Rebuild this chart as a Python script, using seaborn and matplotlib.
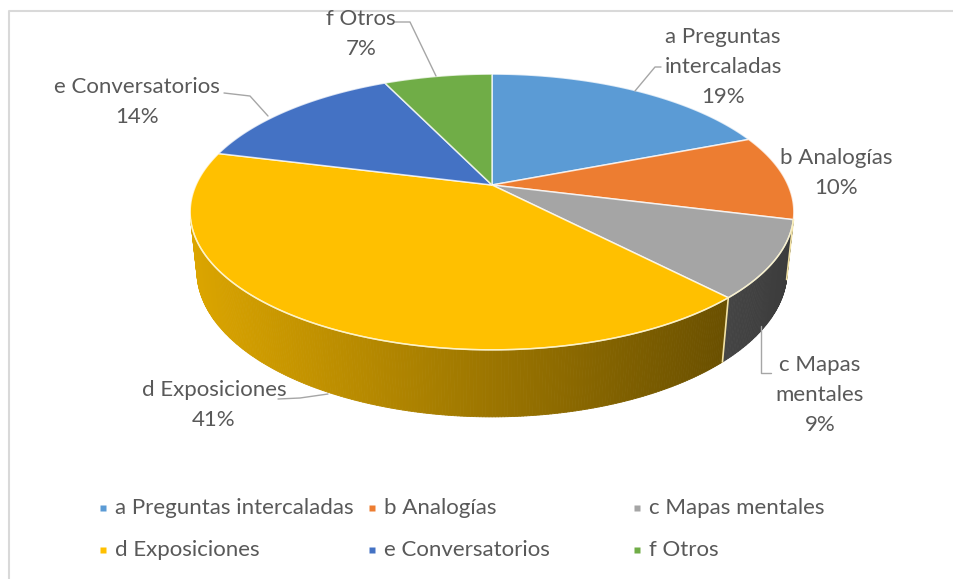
import numpy as np
import matplotlib
matplotlib.use("Agg")
import matplotlib.pyplot as plt
from matplotlib.collections import PolyCollection
import seaborn as sns

# chart data
categories = ["a Preguntas intercaladas", "b Analogías", "c Mapas mentales",
              "d Exposiciones", "e Conversatorios", "f Otros"]
label_names = ["a Preguntas\nintercaladas", "b Analogías", "c Mapas\nmentales",
               "d Exposiciones", "e Conversatorios", "f Otros"]
percentages = [19, 10, 9, 41, 14, 7]
slice_colors = ["#5B9BD5", "#ED7D31", "#A5A5A5", "#FFC000", "#4472C4", "#70AD47"]

# 3d pie camera (pixel space of the figure)
CX, CY = 492, 185
FOCAL, DIST = 1354, 4.574
SIN_T, COS_T = 0.448, 0.894
HEIGHT = 0.223

TEXT_COLOR = "#595959"
LEADER_COLOR = "#A6A6A6"
FONT_SIZE = 16


def project(phi, z):
    """Project a point of the unit disc (angle clockwise from the back) to pixels."""
    u, v = np.sin(phi), np.cos(phi)
    depth = DIST + v * COS_T - z * SIN_T
    x = CX + FOCAL * u / depth
    y = CY - FOCAL * (v * SIN_T + z * COS_T) / depth
    return x, y


def draw_pie(ax):
    fracs = np.array(percentages) / sum(percentages)
    bounds = np.concatenate([[0], np.cumsum(fracs)]) * 2 * np.pi
    colors = sns.color_palette(slice_colors)
    limit = -1 / (DIST * COS_T)  # cos(phi) below this -> wall faces the viewer

    # outer wall, shaded from left (light) to right (dark)
    polys, fcolors = [], []
    for i in range(len(fracs)):
        phis = np.linspace(bounds[i], bounds[i + 1], max(3, int(fracs[i] * 720)))
        for p1, p2 in zip(phis[:-1], phis[1:]):
            if np.cos((p1 + p2) / 2) > limit:
                continue
            xa, ya = project(p1, 0)
            xb, yb = project(p2, 0)
            xc, yc = project(p2, -HEIGHT)
            xd, yd = project(p1, -HEIGHT)
            t = np.clip(((xa + xb) / 2 - 190) / (795 - 190), 0, 1)
            shade = 0.86 - 0.5 * t
            polys.append([(xa, ya), (xb, yb), (xc, yc), (xd, yd)])
            fcolors.append(tuple(np.array(colors[i]) * shade))
    ax.add_collection(PolyCollection(polys, facecolors=fcolors, edgecolors=fcolors,
                                     linewidths=0.6))

    # light seam where two walls meet
    for b in bounds[1:-1]:
        if np.cos(b) < limit:
            xs, ys = zip(project(b, 0), project(b, -HEIGHT))
            ax.plot(xs, ys, color="#F3E3A6", lw=1.2)

    # top faces
    for i in range(len(fracs)):
        phis = np.linspace(bounds[i], bounds[i + 1], max(3, int(fracs[i] * 720)))
        xs, ys = project(phis, 0)
        ax.fill(np.r_[CX, xs], np.r_[CY, ys], color=colors[i],
                ec=(1, 1, 1, 0.75), lw=1.1)

    # rim highlight on the front edge
    phis = np.linspace(np.pi / 2 + 0.25, 3 * np.pi / 2 - 0.25, 200)
    xs, ys = project(phis, 0)
    ax.plot(xs, ys, color="#FFF6C8", lw=1.0, alpha=0.8)


def draw_labels(ax):
    label_xy = [(723, 67), (836, 173), (820, 395), (214, 405), (137, 102), (361, 34)]
    leaders = [
        [(661, 67), (655, 67), (635, 91)],
        None,
        [(761, 326), (761, 373), (771, 373)],
        [(278, 399), (300, 398), (328, 394)],
        [(224, 93), (250, 96), (268, 116)],
        [(394, 22), (410, 22), (436, 76)],
    ]
    for name, pct, (x, y), path in zip(label_names, percentages, label_xy, leaders):
        ax.text(x, y, f"{name}\n{pct}%", ha="center", va="center", fontsize=FONT_SIZE,
                color=TEXT_COLOR, linespacing=1.6)
        if path:
            xs, ys = zip(*path)
            ax.plot(xs, ys, color=LEADER_COLOR, lw=1)


def draw_legend(ax):
    col_x = [103, 372, 637]
    row_y = [508, 550]
    colors = sns.color_palette(slice_colors)
    for i, (cat, c) in enumerate(zip(categories, colors)):
        x, y = col_x[i % 3], row_y[i // 3]
        ax.plot(x, y, marker="s", ms=5, color=c, mec="none")
        ax.text(x + 12, y, cat, ha="left", va="center", fontsize=FONT_SIZE, color=TEXT_COLOR)


sns.set_theme(style="white")
plt.rcParams["font.family"] = ["Lato", "DejaVu Sans"]

fig = plt.figure(figsize=(9.54, 5.79), dpi=100)
ax = fig.add_axes([0, 0, 1, 1])
ax.set_xlim(0, 954)
ax.set_ylim(579, 0)
ax.axis("off")

# chart border (top and left visible in the crop)
ax.plot([9, 9, 954], [579, 11, 11], color="#D9D9D9", lw=1.5)

draw_pie(ax)
draw_labels(ax)
draw_legend(ax)

fig.savefig("out.png", dpi=100, facecolor="white")
